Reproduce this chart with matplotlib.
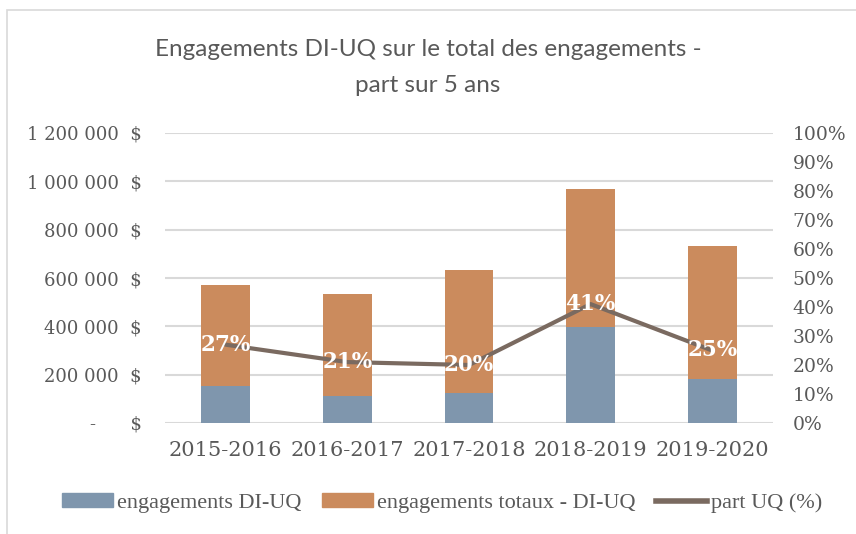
import numpy as np
import matplotlib
matplotlib.use("Agg")
import matplotlib.pyplot as plt
from matplotlib.patches import Rectangle
from matplotlib.lines import Line2D
from matplotlib.patches import Patch

annees = ["2015-2016", "2016-2017", "2017-2018", "2018-2019", "2019-2020"]
di_uq = [154000, 113000, 123000, 396000, 182000]
totaux_moins_di = [417000, 421000, 511000, 571000, 550000]
part_uq = [0.27, 0.21, 0.20, 0.41, 0.25]
etiquettes = ["27%", "21%", "20%", "41%", "25%"]

bleu = "#7f96ad"
orange = "#cb8b5d"
brun = "#7a6a60"
gris = "#595959"

fig = plt.figure(figsize=(8.56, 5.34), dpi=100)
fig.patches.append(Rectangle((7 / 856, -0.1), 1.2, 1 - 10 / 534 + 0.1,
                             transform=fig.transFigure, fill=False,
                             edgecolor="#d9d9d9", linewidth=1.2))

ax = fig.add_axes([165 / 856, 1 - 423 / 534, 608 / 856, 290 / 534])
x = np.arange(len(annees))
ax.bar(x, di_uq, width=0.4, color=bleu, zorder=2)
ax.bar(x, totaux_moins_di, width=0.4, bottom=di_uq, color=orange, zorder=2)

ax.set_xlim(-0.5, len(annees) - 0.5)
ax.set_ylim(0, 1200000)
yt = np.arange(0, 1200001, 200000)
ax.set_yticks(yt)
lab = []
for v in yt:
    if v == 0:
        lab.append("-      $")
    else:
        lab.append(f"{v:,.0f}".replace(",", " ") + "  $")
ax.set_yticklabels(lab, fontsize=13, color=gris, family="DejaVu Serif")
ax.set_xticks(x)
ax.set_xticklabels(annees, fontsize=15, color=gris, family="DejaVu Serif")
ax.tick_params(length=0)
ax.tick_params(axis="x", pad=13)
ax.tick_params(axis="y", pad=17)
ax.grid(axis="y", color="#d9d9d9", linewidth=1.5, zorder=0)
for s in ax.spines.values():
    s.set_visible(False)

ax2 = ax.twinx()
ax2.plot(x, part_uq, color=brun, linewidth=3, zorder=3, solid_capstyle="round")
ax2.set_ylim(0, 1)
ax2.set_yticks(np.arange(0, 1.01, 0.1))
ax2.set_yticklabels([f"{int(round(v * 100))}%" for v in np.arange(0, 1.01, 0.1)],
                    fontsize=13.5, color=gris, family="DejaVu Serif")
ax2.tick_params(length=0, pad=14)
for s in ax2.spines.values():
    s.set_visible(False)
for xi, p, t in zip(x, part_uq, etiquettes):
    ax2.text(xi, p, t, ha="center", va="center", color="white",
             fontsize=15.5, fontweight="bold", family="DejaVu Serif", zorder=4)

fig.text(0.5, 1 - 50 / 534, "Engagements DI-UQ sur le total des engagements -",
         ha="center", va="center", fontsize=17.5, color=gris, family="Lato")
fig.text(0.5, 1 - 85 / 534, "part sur 5 ans",
         ha="center", va="center", fontsize=17.5, color=gris, family="Lato")

handles = [Patch(color=bleu, label="engagements DI-UQ"),
           Patch(color=orange, label="engagements totaux - DI-UQ"),
           Line2D([0], [0], color=brun, linewidth=4, label="part UQ (%)")]
fig.legend(handles=handles, loc="center", bbox_to_anchor=(442 / 856, 1 - 503 / 534),
           ncol=3, frameon=False, handlelength=2.3, handleheight=0.55,
           columnspacing=0.9, handletextpad=0.2,
           prop={"family": "Liberation Serif", "size": 16}, labelcolor=gris)

fig.savefig("out.png", dpi=100)
